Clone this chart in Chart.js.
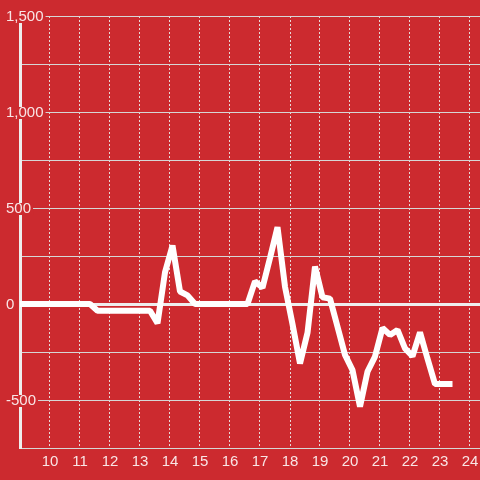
<!DOCTYPE html>
<html>
<head>
<meta charset="utf-8">
<script src="https://cdn.jsdelivr.net/npm/chart.js@4.4.1/dist/chart.umd.min.js"></script>
<style>
  html, body { margin: 0; padding: 0; background: #cc2a2f; }
  #wrap { width: 480px; height: 480px; position: relative; }
</style>
</head>
<body>
<div id="wrap"><canvas id="chart"></canvas></div>
<script>
// time of each reading (hh:mm) and the value at that time
const times = [
    '08:50', '09:05', '09:20', '09:35', '09:50', '10:05', '10:20', '10:35', '10:50', '11:05',
    '11:20', '11:35', '11:50', '12:05', '12:20', '12:35', '12:50', '13:05', '13:20', '13:35',
    '13:50', '14:05', '14:20', '14:35', '14:50', '15:05', '15:20', '15:35', '15:50', '16:05',
    '16:20', '16:35', '16:50', '17:05', '17:20', '17:35', '17:50', '18:05', '18:20', '18:35',
    '18:50', '19:05', '19:20', '19:35', '19:50', '20:05', '20:20', '20:35', '20:50', '21:05',
    '21:20', '21:35', '21:50', '22:05', '22:20', '22:35', '22:50', '23:05', '23:25'
];
const values = [
    0, 0, 0, 0, 0, 0, 0, 0, 0, 0,
    0, -35, -35, -35, -35, -35, -35, -35, -35, -100,
    165, 305, 65, 45, 0, 0, 0, 0, 0, 0,
    0, 0, 118, 85, 240, 400, 90, -105, -310, -150,
    195, 35, 28, -118, -265, -344, -535, -352, -274, -125,
    -161, -135, -231, -272, -148, -285, -417, -417, -417
];
const yLabelValues = [-500, 0, 500, 1000, 1500];
const xLabelValues = [10, 11, 12, 13, 14, 15, 16, 17, 18, 19, 20, 21, 22, 23, 24];

const bgColor = '#cc2a2f';
const textColor = 'rgba(255, 255, 255, 0.88)';

function toHours(t) {
    const [h, m] = t.split(':').map(Number);
    return h + m / 60;
}

const points = times.map((t, i) => ({ x: toHours(t), y: values[i] }));

const ctx = document.getElementById('chart').getContext('2d');
new Chart(ctx, {
    type: 'line',
    data: {
        datasets: [{
            data: points,
            borderColor: '#ffffff',
            borderWidth: 6,
            borderJoinStyle: 'bevel',
            pointRadius: 0,
            tension: 0,
            fill: false
        }]
    },
    options: {
        responsive: true,
        maintainAspectRatio: false,
        animation: false,
        layout: { padding: { top: 16, left: 0, right: 0, bottom: 0 } },
        scales: {
            x: {
                type: 'linear',
                min: 9,
                max: 9 + 460 / 30,
                afterFit: (scale) => {
                    scale.height = 32;
                    // labels may run off the edge, keep the plot full width
                    scale.paddingLeft = 0;
                    scale.paddingRight = 0;
                },
                ticks: {
                    stepSize: 1,
                    includeBounds: false,
                    maxRotation: 0,
                    autoSkip: false,
                    padding: 5,
                    color: textColor,
                    font: { family: 'Liberation Sans, Arial, sans-serif', size: 15 },
                    callback: (v) => xLabelValues.includes(v) ? String(v) : ''
                },
                grid: {
                    drawTicks: false,
                    color: 'rgba(235, 235, 235, 0.9)',
                    lineWidth: 1
                },
                border: {
                    display: true,
                    color: '#d6d6d6',
                    width: 1,
                    dash: [2, 2]
                }
            },
            y: {
                min: -750,
                max: 1500,
                afterFit: (scale) => { scale.width = 20; },
                ticks: {
                    stepSize: 250,
                    mirror: true,
                    padding: -14,
                    labelOffset: 1,
                    color: textColor,
                    font: { family: 'Liberation Sans, Arial, sans-serif', size: 15, lineHeight: 0.8 },
                    showLabelBackdrop: (c) => yLabelValues.includes(c.tick.value),
                    backdropColor: bgColor,
                    backdropPadding: { x: 2, y: 0 },
                    callback: (v) => yLabelValues.includes(v) ? v.toLocaleString('en-US') : ''
                },
                grid: {
                    drawTicks: false,
                    color: (c) => c.tick && c.tick.value === 0 ? '#eeeeee' : '#d6d6d6',
                    lineWidth: (c) => c.tick && c.tick.value === 0 ? 3 : 1
                },
                border: {
                    display: true,
                    color: '#eeeeee',
                    width: 3
                }
            }
        },
        plugins: {
            legend: { display: false },
            tooltip: { enabled: false }
        }
    }
});
</script>
</body>
</html>
